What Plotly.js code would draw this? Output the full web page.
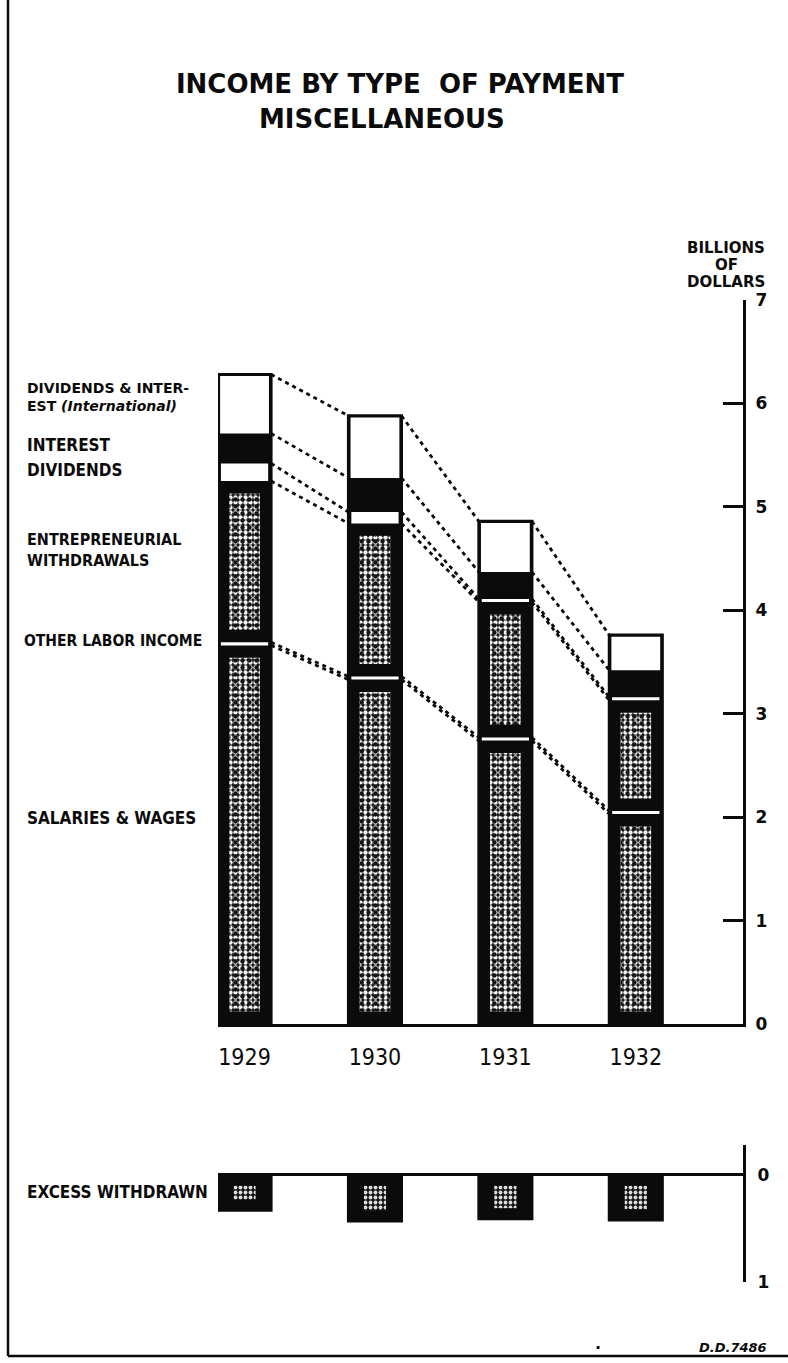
<!DOCTYPE html>
<html>
<head>
<meta charset="utf-8">
<script src="https://cdn.plot.ly/plotly-3.0.1.min.js"></script>
<style>
  html, body { margin: 0; padding: 0; background: #ffffff; }
  #chart { width: 788px; height: 1363px; }
</style>
</head>
<body>
<div id="chart"></div>
<script>
// ---- data (billions of dollars) ----
const years = [1929, 1930, 1931, 1932];
const yearLabels = ["1929", "1930", "1931", "1932"];
const salariesWages = [3.66, 3.33, 2.74, 2.03];
const otherLaborIncome = [0.03, 0.03, 0.03, 0.03];
const entrepreneurialWithdrawals = [1.56, 1.48, 1.31, 1.07];
const dividends = [0.17, 0.11, 0.03, 0.03];
const interest = [0.29, 0.33, 0.26, 0.26];
const intlDividendsInterest = [0.57, 0.60, 0.49, 0.34];
const excessWithdrawn = [0.33, 0.43, 0.41, 0.42];
const mainTicks = [0, 1, 2, 3, 4, 5, 6, 7];
const excessTicks = [0, 1];

// ---- geometry helpers (layout only) ----
const W = 788, H = 1363, ML = 218, MR = 45;
const PW = W - ML - MR;
const px = p => (p - ML) / PW;      // pixel x -> paper x
const py = p => 1 - p / H;          // pixel y -> paper y

const BW = 0.407;                   // bar width (years)
const XR = [1929 - 0.2035, 1932.822];

const series = [salariesWages, otherLaborIncome, entrepreneurialWithdrawals,
                dividends, interest, intlDividendsInterest];
// cumulative bases
const bases = [];
let run = years.map(() => 0);
series.forEach(s => { bases.push(run.slice()); run = run.map((v, i) => v + s[i]); });
const totals = run;

const BLACK = '#0b0b0b';
const traces = [];

// black frame bars
traces.push({type: 'bar', x: years, y: totals, base: years.map(() => 0), width: BW,
  marker: {color: BLACK, line: {color: BLACK, width: 3}}, hoverinfo: 'skip', xaxis: 'x', yaxis: 'y'});

// white segments
[[1, 0.89, 0], [3, 0.89, 0], [5, 0.92, 0.015]].forEach(([k, f, cut]) => {
  traces.push({type: 'bar', x: years, base: bases[k], y: series[k].map(v => v - cut),
    width: BW * f, marker: {color: '#ffffff', line: {width: 0}}, hoverinfo: 'skip'});
});

// speckled texture inside salaries & entrepreneurial
const M = 0.12;
[0, 2].forEach(k => {
  const b = bases[k].map(v => v + M);
  const h = series[k].map(v => Math.max(v - 2 * M, 0));
  traces.push({type: 'bar', x: years, base: b, y: h, width: 0.235,
    marker: {color: BLACK, line: {width: 0},
      pattern: {shape: '.', fgcolor: '#f4f4f4', bgcolor: '#141414', size: 5, solidity: 0.6, fillmode: 'replace'}},
    hoverinfo: 'skip'});
  traces.push({type: 'bar', x: years, base: b, y: h, width: 0.235,
    marker: {color: 'rgba(0,0,0,0)', line: {width: 0},
      pattern: {shape: '.', fgcolor: '#141414', bgcolor: 'rgba(0,0,0,0)', size: 7, solidity: 0.3, fillmode: 'replace'}},
    hoverinfo: 'skip'});
});

// dotted connecting lines between bars at every boundary
const boundaries = [];
for (let k = 0; k < series.length; k++) boundaries.push(bases[k].map((b, i) => b + series[k][i]));
boundaries.forEach(bd => {
  const xs = [], ys = [];
  for (let i = 0; i < years.length - 1; i++) {
    xs.push(years[i] + BW / 2, years[i + 1] - BW / 2, null);
    ys.push(bd[i], bd[i + 1], null);
  }
  traces.push({type: 'scatter', mode: 'lines', x: xs, y: ys,
    line: {color: BLACK, width: 2.8, dash: '4px,4px'}, hoverinfo: 'skip', connectgaps: false});
});

// excess withdrawn (lower panel)
traces.push({type: 'bar', x: years, base: years.map(() => 0), y: excessWithdrawn, width: BW,
  marker: {color: BLACK, line: {color: BLACK, width: 3}}, hoverinfo: 'skip', xaxis: 'x2', yaxis: 'y2'});
traces.push({type: 'bar', x: years, base: years.map(() => 0.1), y: excessWithdrawn.map(v => v - 0.2), width: 0.17,
  marker: {color: BLACK, line: {width: 0},
    pattern: {shape: '.', fgcolor: '#dcdcdc', bgcolor: '#141414', size: 5, solidity: 0.45, fillmode: 'replace'}},
  hoverinfo: 'skip', xaxis: 'x2', yaxis: 'y2'});

const labelFont = {family: 'DejaVu Sans Condensed', size: 17, color: BLACK, weight: 'bold'};
const ann = (text, xpx, ypx, font, anchor) => ({
  text, xref: 'paper', yref: 'paper', x: px(xpx), y: py(ypx),
  xanchor: anchor || 'left', yanchor: 'middle', align: anchor === 'center' ? 'center' : 'left',
  showarrow: false, font
});

const annotations = [
  ann('MISCELLANEOUS', 382, 119, {family: 'DejaVu Sans', size: 26, color: BLACK, weight: 'bold'}, 'center'),
  ann('DIVIDENDS & INTER-<br>EST <i>(International)</i>', 25, 397, {family: 'DejaVu Sans', size: 14, color: BLACK, weight: 'bold'}),
  ann('INTEREST', 25, 445, labelFont),
  ann('DIVIDENDS', 25, 470, labelFont),
  ann('ENTREPRENEURIAL<br>WITHDRAWALS', 25, 550, Object.assign({}, labelFont, {size: 16})),
  ann('OTHER LABOR INCOME', 22, 641, Object.assign({}, labelFont, {size: 15.5})),
  ann('SALARIES & WAGES', 25, 818, labelFont),
  ann('EXCESS WITHDRAWN', 25, 1192, labelFont),
  ann('BILLIONS', 726, 248, {family: 'DejaVu Sans', size: 15, color: BLACK, weight: 'bold'}, 'center'),
  ann('OF', 726, 265, {family: 'DejaVu Sans', size: 15, color: BLACK, weight: 'bold'}, 'center'),
  ann('DOLLARS', 726, 282, {family: 'DejaVu Sans', size: 15, color: BLACK, weight: 'bold'}, 'center'),
  ann('<i>D.D.7486</i>', 733, 1347, {family: 'DejaVu Sans', size: 13, color: BLACK, weight: 'bold'}, 'center'),
  ann('.', 598, 1343, {family: 'DejaVu Sans', size: 16, color: BLACK, weight: 'bold'}, 'center')
];

const shapes = [
  {type: 'line', xref: 'paper', yref: 'paper', x0: px(8), x1: px(8), y0: py(0), y1: py(1356),
   line: {color: BLACK, width: 2.5}},
  {type: 'line', xref: 'paper', yref: 'paper', x0: px(8), x1: px(788), y0: py(1356), y1: py(1356),
   line: {color: BLACK, width: 2.5}}
];

const tickFont = {family: 'DejaVu Sans', size: 17, color: BLACK, weight: 'bold'};

const layout = {
  width: W, height: H,
  margin: {l: ML, r: MR, t: 0, b: 0, pad: 0},
  paper_bgcolor: '#ffffff', plot_bgcolor: 'rgba(0,0,0,0)',
  barmode: 'overlay', showlegend: false, hovermode: false,
  title: {text: 'INCOME BY TYPE  OF PAYMENT', xref: 'container', yref: 'container',
          x: 400 / W, y: 1 - 84 / H, xanchor: 'center', yanchor: 'middle',
          font: {family: 'DejaVu Sans', size: 26, color: BLACK, weight: 'bold'}},
  xaxis: {domain: [0, 1], range: XR, anchor: 'y', tickmode: 'array', tickvals: years, ticktext: yearLabels,
          ticks: '', showline: true, linewidth: 3, linecolor: BLACK, showgrid: false, zeroline: false,
          tickfont: {family: 'DejaVu Sans Condensed', size: 23, color: BLACK}, ticklabelstandoff: 10,
          fixedrange: true},
  yaxis: {domain: [py(1024), py(300)], range: [0, 7], anchor: 'x', side: 'right',
          tickmode: 'array', tickvals: mainTicks, ticks: 'inside', ticklen: 20, tickwidth: 3, tickcolor: BLACK,
          showline: true, linewidth: 3, linecolor: BLACK, showgrid: false, zeroline: false,
          tickfont: tickFont, ticklabelstandoff: 6, fixedrange: true},
  xaxis2: {domain: [0, 1], range: XR, anchor: 'y2', visible: false, fixedrange: true},
  yaxis2: {domain: [py(1282), py(1145)], range: [1, -0.28], anchor: 'x2', side: 'right',
           tickmode: 'array', tickvals: excessTicks, ticks: 'inside', ticklen: 18, tickwidth: 3, tickcolor: BLACK,
           showline: true, linewidth: 3, linecolor: BLACK, showgrid: false,
           zeroline: true, zerolinewidth: 3, zerolinecolor: BLACK,
           tickfont: tickFont, ticklabelstandoff: 8, fixedrange: true},
  annotations, shapes
};

Plotly.newPlot('chart', traces, layout, {displayModeBar: false, staticPlot: true});
</script>
</body>
</html>
